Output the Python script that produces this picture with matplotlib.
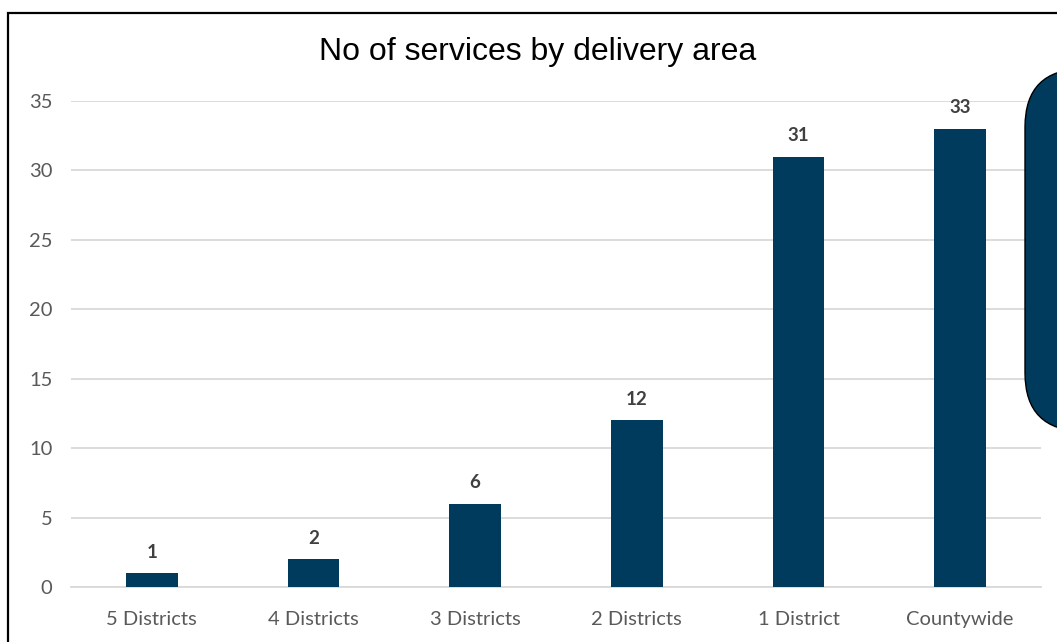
import matplotlib
matplotlib.use("Agg")
import matplotlib.pyplot as plt
from matplotlib.patches import FancyBboxPatch, Rectangle

categories = ["5 Districts", "4 Districts", "3 Districts", "2 Districts", "1 District", "Countywide"]
services = [1, 2, 6, 12, 31, 33]
y_ticks = [0, 5, 10, 15, 20, 25, 30, 35]

NAVY = "#003a5d"
GRID = "#d9d9d9"
TICK = "#595959"

plt.rcParams["font.family"] = ["Lato", "DejaVu Sans"]

fig = plt.figure(figsize=(10.57, 6.42), dpi=100)
W, H = 1057, 642

# plot area in pixel terms
left, right, bottom, top = 71, 1041, 642 - 587, 642 - 101
ax = fig.add_axes([left / W, bottom / H, (right - left) / W, (top - bottom) / H])

x = range(len(categories))
ax.bar(x, services, width=0.32, color=NAVY, zorder=3)
for xi, v in zip(x, services):
    ax.annotate(str(v), (xi, v), xytext=(0, 9), textcoords="offset points",
                ha="center", va="bottom", fontsize=13.5, fontweight="bold",
                color="#404040")

ax.set_xlim(-0.5, len(categories) - 0.5)
ax.set_ylim(0, 35)
ax.set_yticks(y_ticks)
ax.set_xticks(list(x))
ax.set_xticklabels(categories)
ax.yaxis.grid(True, color=GRID, linewidth=1.3, zorder=0)
ax.tick_params(axis="both", length=0, labelsize=14.5, labelcolor=TICK)
ax.tick_params(axis="y", pad=13.5)
ax.tick_params(axis="x", pad=17)
for s in ["top", "right", "left"]:
    ax.spines[s].set_visible(False)
ax.spines["bottom"].set_color(GRID)
ax.spines["bottom"].set_linewidth(1.3)

fig.text(538 / W, 1 - 52 / H, "No of services by delivery area", ha="center",
         va="center", fontsize=23, family=["Liberation Sans", "DejaVu Sans"])

# outer chart frame
fig.patches.append(Rectangle((7.5 / W, -0.1), 1.2, 1 - 12.5 / H + 0.1,
                             transform=fig.transFigure, fill=False,
                             edgecolor="black", linewidth=1.6, zorder=5))

# callout box on the right edge
shadow = FancyBboxPatch((1028 / W, 1 - 434 / H), 100 / W, 362 / H,
                        boxstyle="round,pad=0,rounding_size=0.055",
                        transform=fig.transFigure, facecolor="#d8d8d8",
                        edgecolor="none", alpha=0.5, zorder=6,
                        mutation_aspect=W / H)
box = FancyBboxPatch((1025 / W, 1 - 431 / H), 100 / W, 362 / H,
                     boxstyle="round,pad=0,rounding_size=0.055",
                     transform=fig.transFigure, facecolor=NAVY,
                     edgecolor="black", linewidth=1.0, zorder=7,
                     mutation_aspect=W / H)
fig.patches.extend([shadow, box])

fig.savefig("out.png", dpi=100)
